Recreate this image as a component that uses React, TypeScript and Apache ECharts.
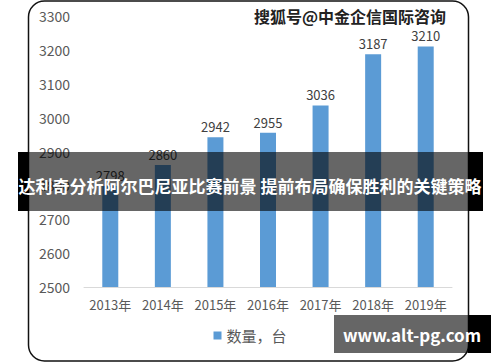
import React, { useEffect, useRef } from "react";
import * as echarts from "echarts";

const categories = ["2013年", "2014年", "2015年", "2016年", "2017年", "2018年", "2019年"];
const values = [2798, 2860, 2942, 2955, 3036, 3187, 3210];
const seriesName = "数量，台";
const bannerText = "达利奇分析阿尔巴尼亚比赛前景 提前布局确保胜利的关键策略";
const watermarkText = "搜狐号@中金企信国际咨询";
const siteText = "www.alt-pg.com";

const FONT = "'Noto Sans CJK SC', 'Noto Sans', sans-serif";

export default function App() {
  const ref = useRef<HTMLDivElement>(null);
  useEffect(() => {
    document.body.style.margin = "0";
    const chart = echarts.init(ref.current!, null, { renderer: "svg" });
    chart.setOption({
      animation: false,
      backgroundColor: "#ffffff",
      textStyle: { fontFamily: FONT },
      grid: { left: 84, right: 48, top: 16, bottom: 75, containLabel: false },
      legend: {
        data: [seriesName],
        bottom: 14,
        left: "center",
        itemWidth: 8,
        itemHeight: 8,
        itemGap: 6,
        icon: "rect",
        textStyle: { fontSize: 15, color: "#595959", fontFamily: FONT },
      },
      xAxis: {
        type: "category",
        data: categories,
        axisLine: { lineStyle: { color: "#d9d9d9", width: 1 } },
        axisTick: { show: false },
        axisLabel: { fontSize: 13, color: "#595959", margin: 11, interval: 0, fontFamily: FONT },
      },
      yAxis: {
        type: "value",
        min: 2500,
        max: 3300,
        interval: 100,
        axisLine: { show: false },
        axisTick: { show: false },
        splitLine: { show: false },
        axisLabel: {
          fontSize: 14,
          color: "#595959",
          margin: 14,
          fontFamily: FONT,
          formatter: (v: number) => String(v),
        },
      },
      series: [
        {
          name: seriesName,
          type: "bar",
          data: values,
          barWidth: 16,
          itemStyle: { color: "#5b9bd5" },
          label: {
            show: true,
            position: "top",
            distance: 4,
            fontSize: 13,
            color: "#404040",
            fontFamily: FONT,
          },
        },
      ],
      graphic: [
        {
          type: "rect",
          z: 100,
          shape: { x: 28.5, y: 1, width: 440, height: 360, r: 16 },
          style: { fill: "none", stroke: "#111", lineWidth: 1.5 },
        },
        {
          type: "text",
          z: 100,
          x: 350,
          y: 16,
          style: {
            text: watermarkText,
            fontSize: 16,
            fontWeight: "bold",
            fill: "#222",
            stroke: "#fff",
            lineWidth: 2,
            align: "center",
            verticalAlign: "middle",
            fontFamily: FONT,
          },
        },
        {
          type: "rect",
          z: 200,
          shape: { x: 18, y: 152, width: 11, height: 59 },
          style: { fill: "#000" },
        },
        {
          type: "rect",
          z: 200,
          shape: { x: 468, y: 152, width: 15, height: 59 },
          style: { fill: "#000" },
        },
        {
          type: "rect",
          z: 200,
          shape: { x: 29, y: 152, width: 439, height: 59 },
          style: { fill: "rgba(0,0,0,0.6)" },
        },
        {
          type: "text",
          z: 210,
          x: 250,
          y: 185,
          style: {
            text: bannerText,
            fontSize: 17,
            fontWeight: "bold",
            fill: "#fff",
            align: "center",
            verticalAlign: "middle",
            fontFamily: FONT,
          },
        },
        {
          type: "rect",
          z: 200,
          shape: { x: 334, y: 315, width: 134, height: 38 },
          style: { fill: "rgba(0,0,0,0.6)" },
        },
        {
          type: "rect",
          z: 200,
          shape: { x: 468, y: 315, width: 23, height: 38 },
          style: { fill: "#000" },
        },
        {
          type: "text",
          z: 210,
          x: 412,
          y: 334,
          style: {
            text: siteText,
            fontSize: 17,
            fontWeight: "bold",
            fill: "#fff",
            align: "center",
            verticalAlign: "middle",
            fontFamily: FONT,
          },
        },
      ],
    });
    return () => chart.dispose();
  }, []);
  return <div ref={ref} style={{ position: "absolute", left: 0, top: 0, width: 500, height: 362 }} />;
}
